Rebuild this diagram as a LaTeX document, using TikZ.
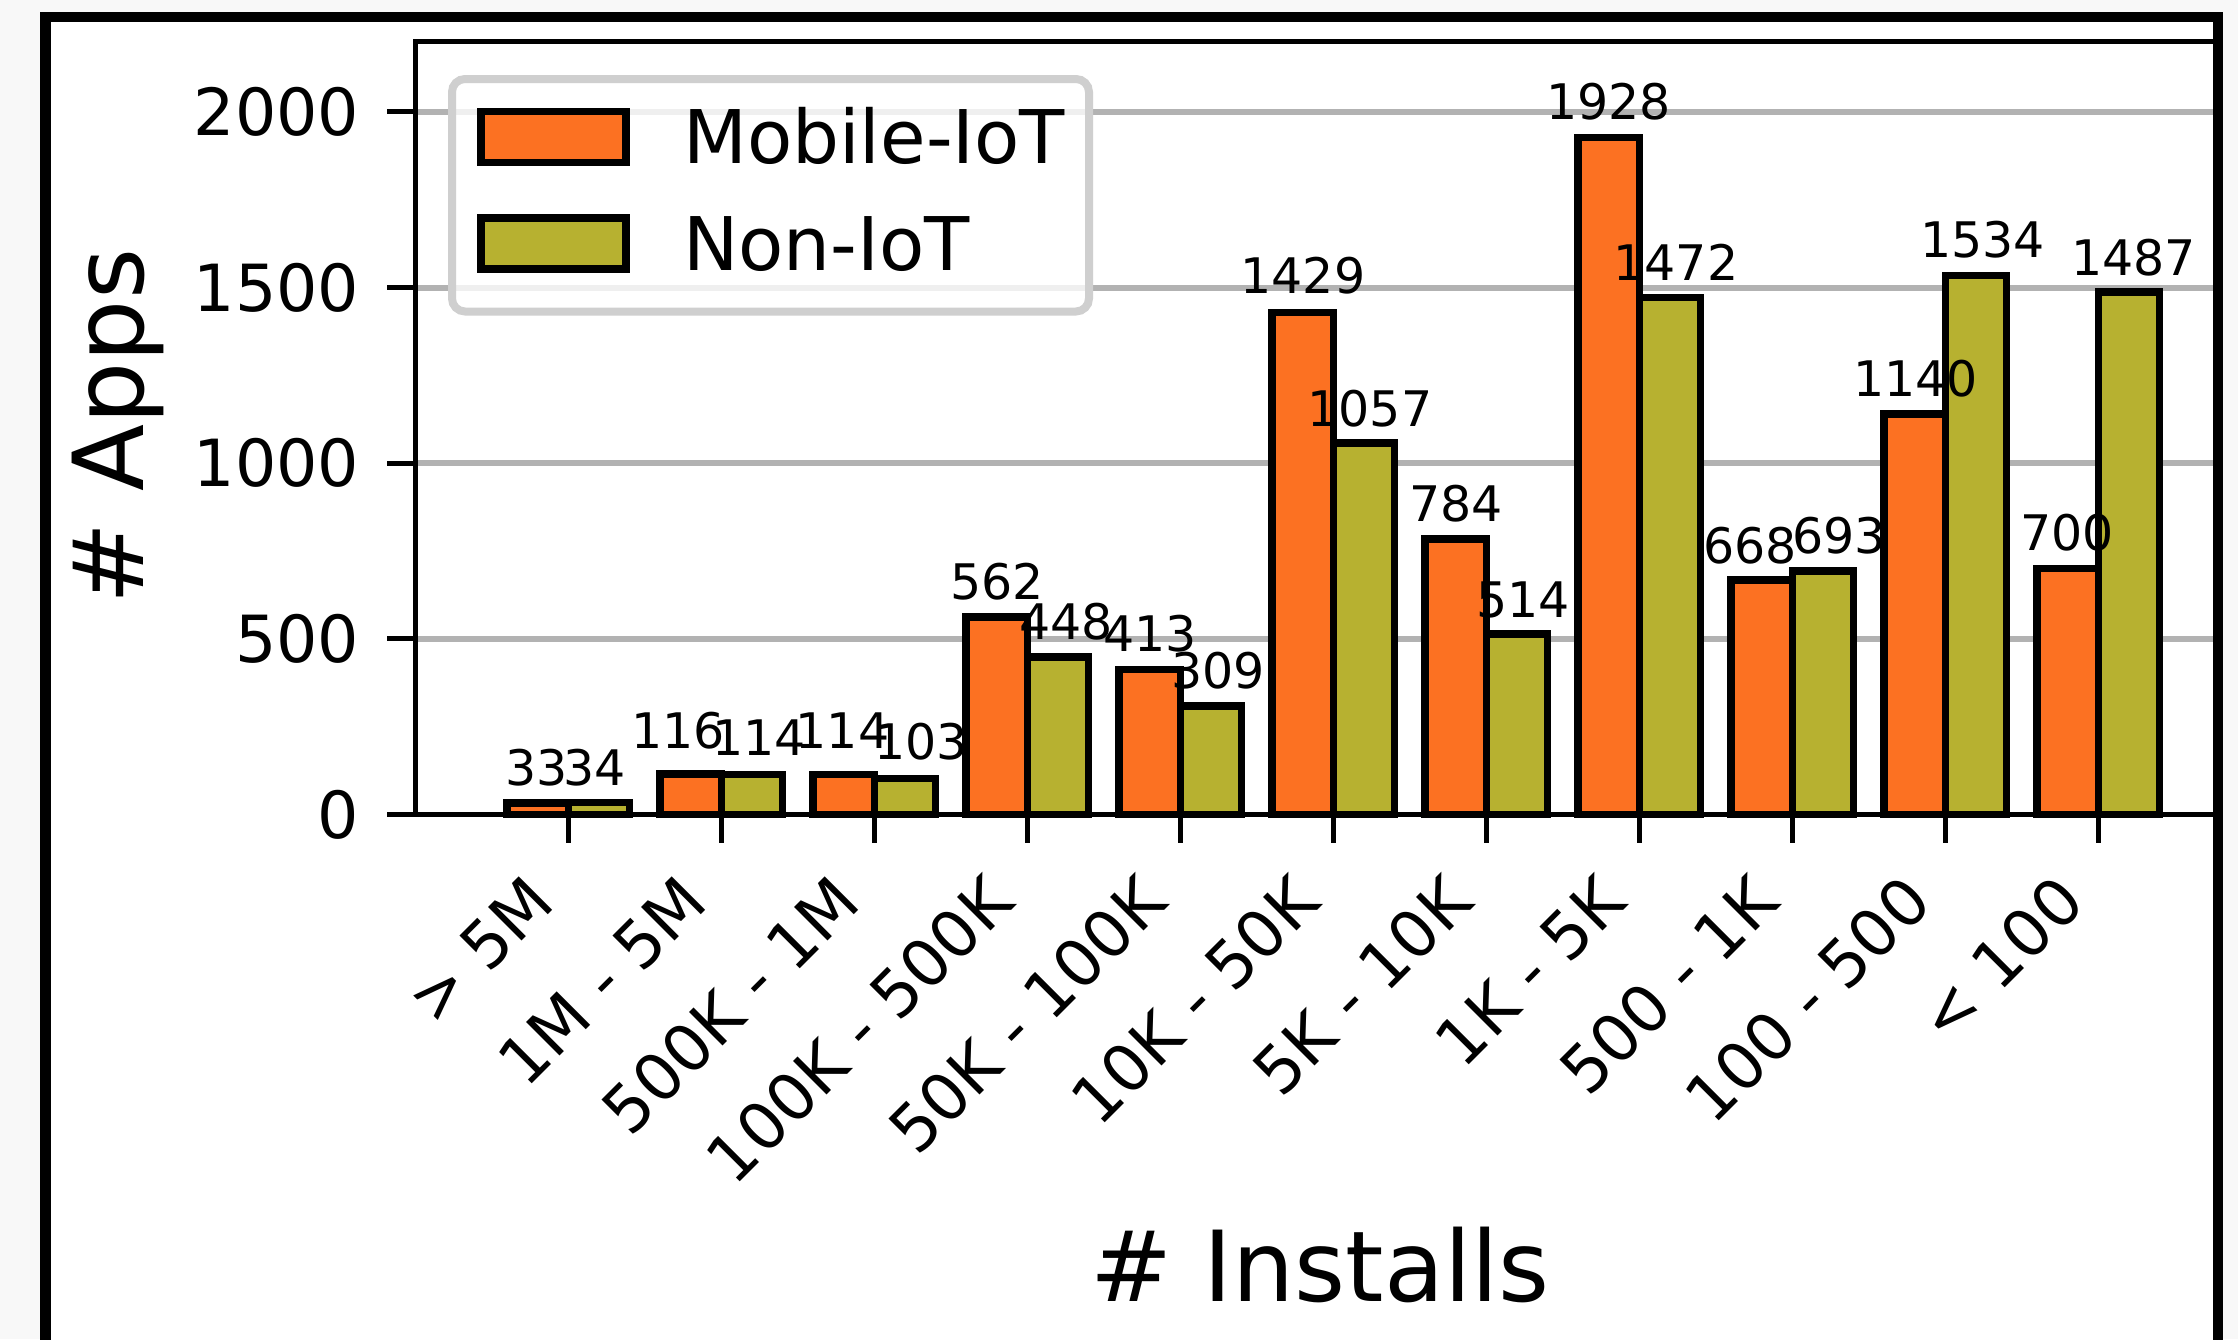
\documentclass[tikz,border=0pt]{standalone}
\usepackage{fontspec}
\setmainfont{DejaVu Sans}
\definecolor{mobileiot}{RGB}{252,113,34}
\definecolor{noniot}{RGB}{183,177,48}
\definecolor{gridgray}{RGB}{178,178,178}
\definecolor{legendedge}{RGB}{207,207,207}
\definecolor{pagebg}{RGB}{248,248,248}
\tikzset{
  barbase/.style={draw=black, line width=7.5pt},
  mobbar/.style={barbase, fill=mobileiot},
  nonbar/.style={barbase, fill=noniot},
  gridline/.style={draw=gridgray, line width=6pt},
  spine/.style={draw=black, line width=5.3pt, line cap=rect},
  tickmark/.style={draw=black, line width=5pt},
  ticklbl/.style={font=\fontsize{65}{78}\selectfont, inner sep=0pt},
  barlbl/.style={font=\fontsize{49}{59}\selectfont, inner sep=0pt},
  axlbl/.style={font=\fontsize{98}{118}\selectfont, inner sep=0pt},
  legtxt/.style={font=\fontsize{74}{89}\selectfont, inner sep=0pt},
  legbox/.style={draw=legendedge, line width=8pt, fill=white, fill opacity=0.8, rounded corners=13pt},
  frameline/.style={draw=black, line width=10.5pt},
}
\begin{document}
\begin{tikzpicture}[x=1pt, y=-1pt]
\useasboundingbox (0,0) rectangle (2238,1339);
\clip (0,0) rectangle (2238,1339);
\fill[pagebg] (0,0) rectangle (2238,1339);
\fill[white] (45.5,17) rectangle (2218,1400);

% horizontal grid
\foreach \v in {500,1000,1500,2000}
  \draw[gridline] (415.5,{814.5-\v*0.35125}) -- (2214,{814.5-\v*0.35125});

% grouped bars and their value labels
\foreach \i/\txt/\a/\b/\ax/\ay/\bx/\by in {
  0/{> 5M}/33/34/537/767.5/595/767.5,
  1/{1M - 5M}/116/114/678/730.5/759/738,
  2/{500K - 1M}/114/103/842.5/730.5/921/741.5,
  3/{100K - 500K}/562/448/997/582/1066/622,
  4/{50K - 100K}/413/309/1150/634/1218/671,
  5/{10K - 50K}/1429/1057/1303/275.5/1370/409,
  6/{5K - 10K}/784/514/1456/504/1523/599.5,
  7/{1K - 5K}/1928/1472/1608.6/102/1676/262,
  8/{500 - 1K}/668/693/1750/546/1839/536,
  9/{100 - 500}/1140/1534/1915.4/379/1982.5/240,
  10/{< 100}/700/1487/2067/533/2133.8/258}{
  \pgfmathsetmacro\tx{568.3+153*\i}
  \draw[mobbar] ({\tx-61.2},814.5) rectangle (\tx,{814.5-\a*0.35125});
  \draw[nonbar] (\tx,814.5) rectangle ({\tx+61.2},{814.5-\b*0.35125});
  \node[barlbl] (mv\i) at (\ax,\ay) {\a};
  \node[barlbl] (nv\i) at (\bx,\by) {\b};
  \draw[tickmark] (\tx,814.5) -- (\tx,842.7);
  \node[ticklbl, rotate=45, anchor=base east] (xt\i) at ({\tx-10.8},905.5) {\txt};
}

% axes frame
\draw[spine] (415.5,814.5) -- (415.5,41.7) -- (2216,41.7);
\draw[spine] (415.5,814.5) -- (2216,814.5);

% y ticks and labels
\foreach \v in {0,500,1000,1500,2000}{
  \draw[tickmark] (387,{814.5-\v*0.35125}) -- (415.5,{814.5-\v*0.35125});
  \node[ticklbl, anchor=east] (yt\v) at (359.5,{814.5-\v*0.35125}) {\v};
}

% axis titles
\node[axlbl, rotate=90, anchor=base] (ylab) at (143.5,426.6) {\# Apps};
\node[axlbl, anchor=base] (xlab) at (1320,1301.7) {\# Installs};

% legend
\draw[legbox] (452,79) rectangle (1089,311.5);
\draw[mobbar, line width=7.3pt] (481,111.5) rectangle (626,162.5);
\draw[nonbar, line width=7.3pt] (481,218) rectangle (626,269);
\node[legtxt, anchor=base west] (legA) at (683,163) {Mobile-IoT};
\node[legtxt, anchor=base west] (legB) at (683,270) {Non-IoT};

% outer border
\draw[frameline] (45.5,1420) -- (45.5,17) -- (2218,17) -- (2218,1420);
\end{tikzpicture}
\end{document}
